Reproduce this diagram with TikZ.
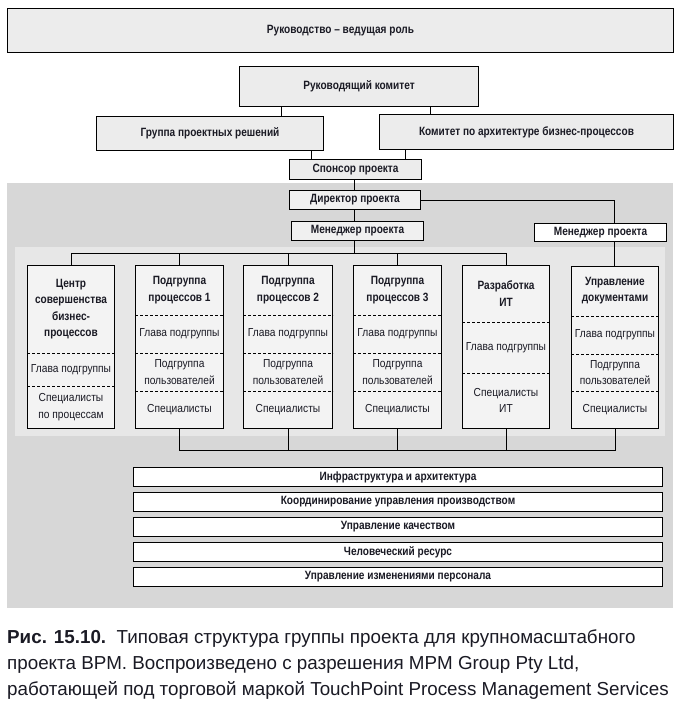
\documentclass[tikz,border=0pt]{standalone}
\usepackage{fontspec}
\setmainfont{Liberation Sans}[FakeStretch=0.88]
\newfontfamily\hdfont{Liberation Sans}[FakeStretch=0.84]
\newfontfamily\capfont{Liberation Sans}
\definecolor{txt}{HTML}{1A1A24}
\definecolor{leadfill}{HTML}{ECECEC}
\definecolor{bigbg}{HTML}{D7D7D7}
\definecolor{strip}{HTML}{E7E7E7}
\definecolor{inbox}{HTML}{F0F0F0}
\definecolor{colfill}{HTML}{F3F3F3}
\newcommand\mybox[6]{%
  \node[bx,#6,minimum width={(#4-#2)*1pt},minimum height={(#5-#3)*1pt}] (#1) at (#2,#3) {};}
\begin{document}
\begin{tikzpicture}[x=1pt,y=-1pt,
  bx/.style={draw=black, line width=1pt, inner sep=0pt, anchor=north west, text=txt},
  hd/.style={font=\hdfont\bfseries\fontsize{12}{16.5}\selectfont, align=center, text=txt, inner sep=0pt},
  rg/.style={font=\fontsize{11.6}{16.5}\selectfont, align=center, text=txt, inner sep=0pt},
  ln/.style={line width=1pt, draw=black},
  dsh/.style={line width=0.9pt, dash pattern=on 3pt off 2pt},
  captxt/.style={anchor=base west, inner sep=0pt, text=txt, font=\capfont\fontsize{18.8}{26}\selectfont}
]
\useasboundingbox[fill=white] (0,0) rectangle (681,710);

% backgrounds
\fill[bigbg] (7,183) rectangle (673,608);
\fill[strip] (15,247) rectangle (665,436);

% top part
\mybox{lead}{7}{8}{673}{52}{fill=leadfill}
\node[hd] (leadt) at (lead.center) {Руководство – ведущая роль};
\mybox{steer}{239}{66}{478}{106}{fill=leadfill}
\node[hd] (steert) at (steer.center) {Руководящий комитет};
\mybox{group}{96}{116}{323}{150}{fill=leadfill}
\node[hd] (groupt) at (group.center) {Группа проектных решений};
\mybox{arch}{379}{114}{673}{149}{fill=leadfill}
\node[hd] (archt) at (arch.center) {Комитет по архитектуре бизнес-процессов};
\mybox{spon}{289}{159}{421}{179}{fill=leadfill}
\node[hd] (spont) at (spon.center) {Спонсор проекта};

\mybox{dir}{289}{190}{420}{209}{fill=inbox}
\node[hd] (dirt) at (dir.center) {Директор проекта};
\mybox{man}{291}{221}{423}{240}{fill=inbox}
\node[hd] (mant) at (man.center) {Менеджер проекта};
\mybox{mantwo}{534}{223}{666}{241}{fill=white}
\node[hd] (mantwot) at (mantwo.center) {Менеджер проекта};

% guide coordinates
\coordinate (g281) at (281,0);
\coordinate (g430) at (430,0);
\coordinate (g311) at (311,0);
\coordinate (g405) at (405,0);
\coordinate (g354) at (354,0);
\coordinate (g614) at (614.5,0);
\coordinate (bus) at (0,253);
\coordinate (busb) at (0,450);

% columns
\mybox{c1}{27}{265}{114}{428}{fill=colfill}
\mybox{c2}{135}{265}{223}{428}{fill=colfill}
\mybox{c3}{243}{265}{332}{428}{fill=colfill}
\mybox{c4}{353}{265}{441}{428}{fill=colfill}
\mybox{c5}{462}{265}{549}{428}{fill=colfill}
\mybox{c6}{571}{266}{658}{428}{fill=colfill}

% dashed dividers
\foreach \c/\y in {c1/353,c1/386,c2/315,c2/353,c2/391,c3/315,c3/353,c3/391,c4/315,c4/353,c4/391,c5/322,c5/373,c6/316,c6/354,c6/391}{
  \coordinate (dv) at (0,\y);
  \draw[dsh] (\c.west |- dv) -- (\c.east |- dv);
}

% column texts
\coordinate (y309) at (0,309);
\node[hd] (c1h) at (c1.center |- y309) {Центр\\совершенства\\бизнес-\\процессов};
\coordinate (y369) at (0,369.5);
\node[rg] (c1a) at (c1.center |- y369) {Глава подгруппы};
\coordinate (y407) at (0,407);
\node[rg] (c1b) at (c1.center |- y407) {Специалисты\\по процессам};

\coordinate (y290) at (0,290);
\coordinate (y334) at (0,334);
\coordinate (y372) at (0,372);
\coordinate (y409) at (0,409.5);
\node[hd] (c2h) at (c2.center |- y290) {Подгруппа\\процессов 1};
\node[hd] (c3h) at (c3.center |- y290) {Подгруппа\\процессов 2};
\node[hd] (c4h) at (c4.center |- y290) {Подгруппа\\процессов 3};
\foreach \c in {c2,c3,c4}{
  \node[rg] (\c a) at (\c.center |- y334) {Глава подгруппы};
  \node[rg] (\c b) at (\c.center |- y372) {Подгруппа\\пользователей};
  \node[rg] (\c c) at (\c.center |- y409) {Специалисты};
}
\coordinate (y293) at (0,293.5);
\coordinate (y347) at (0,347.5);
\coordinate (y400) at (0,400.5);
\node[hd] (c5h) at (c5.center |- y293) {Разработка\\ИТ};
\node[rg] (c5a) at (c5.center |- y347) {Глава подгруппы};
\node[rg] (c5b) at (c5.center |- y400) {Специалисты\\ИТ};

\coordinate (y2905) at (0,290.5);
\coordinate (y335) at (0,335);
\coordinate (y3725) at (0,372.5);
\node[hd] (c6h) at (c6.center |- y2905) {Управление\\документами};
\node[rg] (c6a) at (c6.center |- y335) {Глава подгруппы};
\node[rg] (c6b) at (c6.center |- y3725) {Подгруппа\\пользователей};
\node[rg] (c6c) at (c6.center |- y409) {Специалисты};

% bars
\mybox{b1}{133}{467}{662}{486}{fill=white}
\node[hd] (b1t) at (b1.center) {Инфраструктура и архитектура};
\mybox{b2}{133}{492}{662}{511}{fill=white}
\node[hd] (b2t) at (b2.center) {Координирование управления производством};
\mybox{b3}{133}{517}{662}{536}{fill=white}
\node[hd] (b3t) at (b3.center) {Управление качеством};
\mybox{b4}{133}{542}{662}{561}{fill=white}
\node[hd] (b4t) at (b4.center) {Человеческий ресурс};
\mybox{b5}{133}{567}{662}{586}{fill=white}
\node[hd] (b5t) at (b5.center) {Управление изменениями персонала};

% connectors
\draw[ln] (steer.south -| g281) -- (group.north -| g281);
\draw[ln] (steer.south -| g430) -- (arch.north -| g430);
\draw[ln] (group.south -| g311) -- (spon.north -| g311);
\draw[ln] (arch.south -| g405) -- (spon.north -| g405);
\draw[ln] (spon.south -| g354) -- (dir.north -| g354);
\draw[ln] (dir.south -| g354) -- (man.north -| g354);
\draw[ln] (man.south -| g354) -- (bus -| g354);
\draw[ln] (c1.north) -- (c1.north |- bus) -- (c5.north |- bus) -- (c5.north);
\draw[ln] (c2.north) -- (c2.north |- bus);
\draw[ln] (c3.north) -- (c3.north |- bus);
\draw[ln] (c4.north) -- (c4.north |- bus);
\draw[ln] (dir.east) -- (dir.east -| g614) -- (mantwo.north -| g614);
\draw[ln] (mantwo.south -| g614) -- (c6.north -| g614);
\draw[ln] (c2.south) -- (c2.south |- busb) -- (c6.south |- busb) -- (c6.south);
\draw[ln] (c3.south) -- (c3.south |- busb);
\draw[ln] (c4.south) -- (c4.south |- busb);
\draw[ln] (c5.south) -- (c5.south |- busb);

% caption
\node[captxt] (cap1) at (7,643) {\textbf{Рис. 15.10.}\ \ Типовая структура группы проекта для крупномасштабного};
\node[captxt] (cap2) at (7,669) {проекта BPM. Воспроизведено с разрешения MPM Group Pty Ltd,};
\node[captxt] (cap3) at (7,695) {работающей под торговой маркой TouchPoint Process Management Services};
\end{tikzpicture}
\end{document}
